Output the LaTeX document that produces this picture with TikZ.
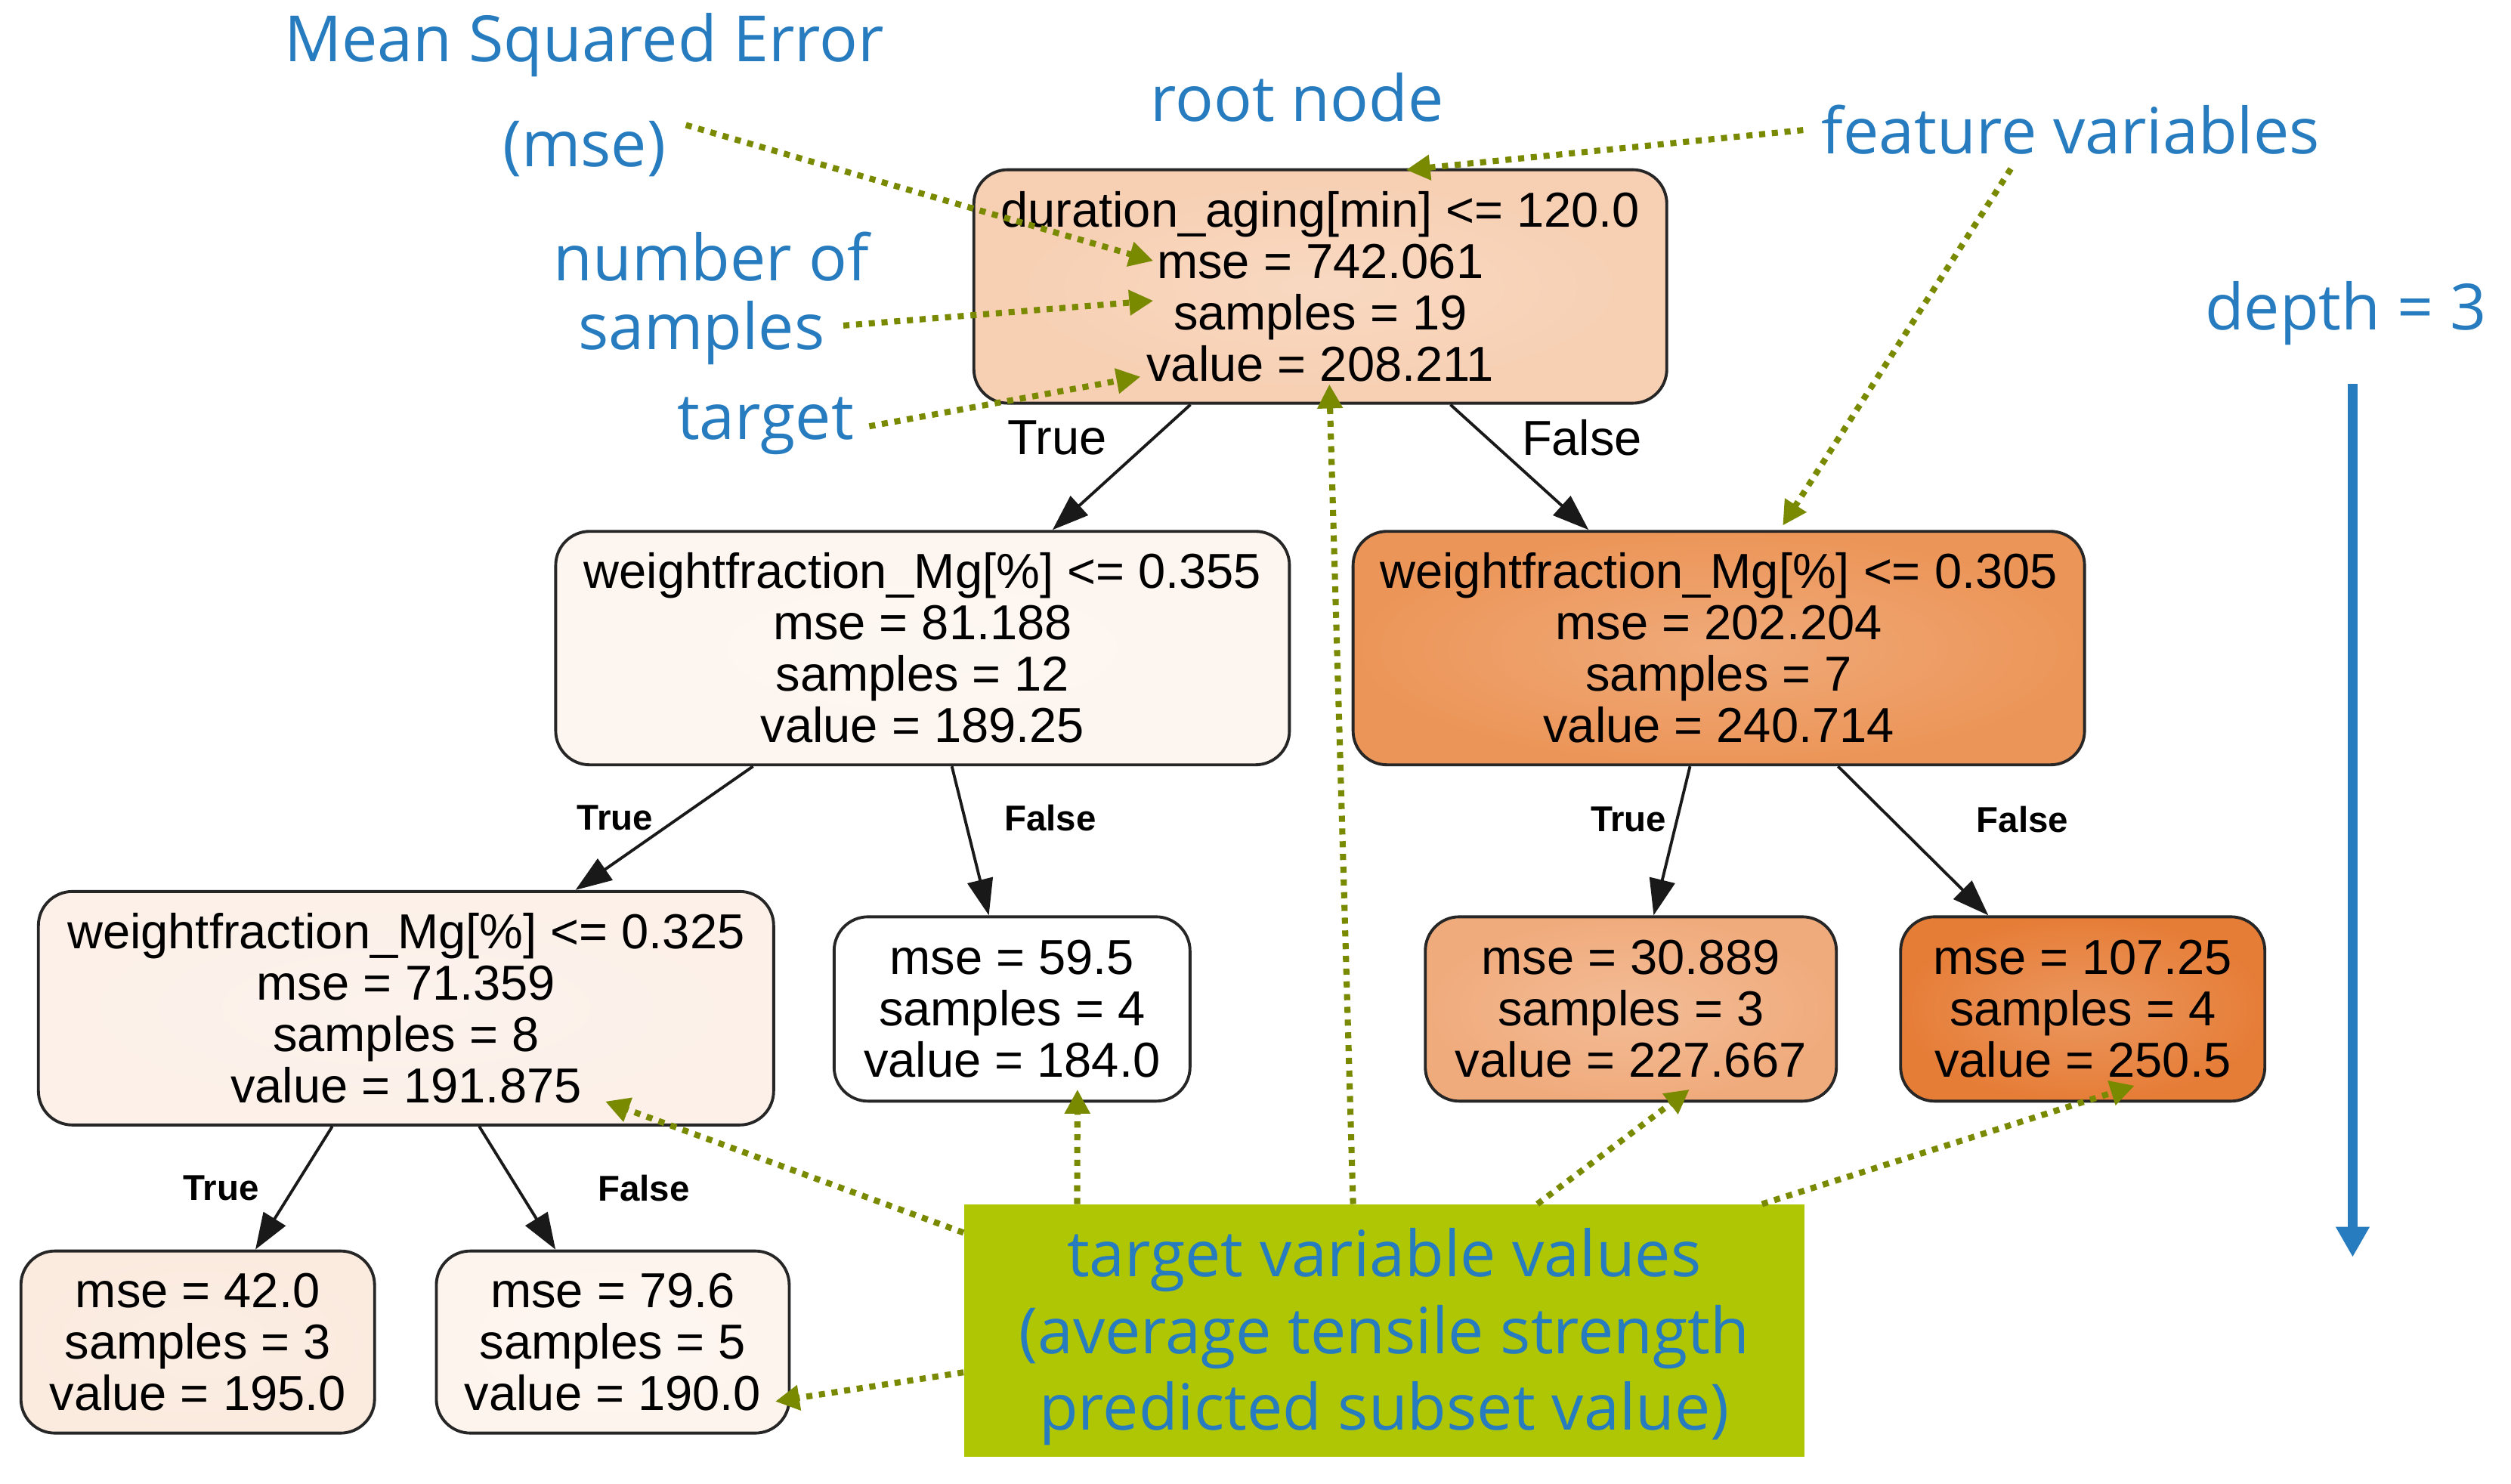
\documentclass[tikz,border=0pt]{standalone}
\usepackage{fontspec}
\setmainfont{Liberation Sans}
\newfontfamily\lblfont{Open Sans}
\usetikzlibrary{arrows.meta,calc}
\definecolor{lblblue}{HTML}{277CBF}
\definecolor{olivearr}{HTML}{7A8A00}
\definecolor{greenbg}{HTML}{AFC605}
\definecolor{cRoot}{HTML}{F7CFB2}
\definecolor{cLone}{HTML}{FDF5EF}
\definecolor{cRone}{HTML}{EC9558}
\definecolor{cLL}{HTML}{FCF0E8}
\definecolor{cRL}{HTML}{F0AB7C}
\definecolor{cRR}{HTML}{E67D37}
\definecolor{cLa}{HTML}{FBEADE}
\definecolor{cLb}{HTML}{FDF4ED}
\begin{document}
\begin{tikzpicture}[x=0.0995mm,y=-0.0995mm,
  tnode/.style={draw=black!85, line width=1.1pt, rounded corners=4.5mm, align=center,
    inner sep=0pt, font=\fontsize{18.5}{19.35}\selectfont},
  fillc/.style={shading=radial, inner color=#1!80!white, outer color=#1},
  edge/.style={draw=black!90, line width=1.1pt, -{Triangle[length=4.8mm,width=3.4mm]}},
  elbl/.style={inner sep=0pt, font=\fontsize{18.5}{20}\selectfont},
  elsm/.style={inner sep=0pt, font=\fontsize{13.5}{14}\selectfont\bfseries},
  lbl/.style={inner sep=0pt, text=lblblue, font=\lblfont\fontsize{24}{28}\selectfont},
  oarr/.style={draw=olivearr, line width=2.3pt, dash pattern=on 2.3pt off 2.5pt,
    -{Triangle[length=3.2mm,width=3.2mm,fill=olivearr]}},
  deptharr/.style={draw=lblblue, line width=3.6pt, -{Triangle[length=4mm,width=4.2mm]}}
]
\useasboundingbox (0mm,0mm) rectangle (332.3mm,-196.3mm);

% tree nodes
\node[tnode, fillc=cRoot, minimum width=91.7mm, minimum height=30.9mm] (root) at (1756,381)
  {duration\_aging[min] <= 120.0\\mse = 742.061\\samples = 19\\value = 208.211};
\node[tnode, fillc=cLone, minimum width=97.1mm, minimum height=30.9mm] (l1) at (1227,862)
  {weightfraction\_Mg[\%] <= 0.355\\mse = 81.188\\samples = 12\\value = 189.25};
\node[tnode, fillc=cRone, minimum width=96.8mm, minimum height=30.9mm] (r1) at (2286,862)
  {weightfraction\_Mg[\%] <= 0.305\\mse = 202.204\\samples = 7\\value = 240.714};
\node[tnode, fillc=cLL, minimum width=97.3mm, minimum height=30.9mm] (ll) at (540,1341)
  {weightfraction\_Mg[\%] <= 0.325\\mse = 71.359\\samples = 8\\value = 191.875};
\node[tnode, fill=white, minimum width=47.1mm, minimum height=24.4mm] (lr) at (1346,1342)
  {mse = 59.5\\samples = 4\\value = 184.0};
\node[tnode, fillc=cRL, minimum width=54.4mm, minimum height=24.4mm] (rl) at (2169,1342)
  {mse = 30.889\\samples = 3\\value = 227.667};
\node[tnode, fillc=cRR, minimum width=48.2mm, minimum height=24.4mm] (rr) at (2770,1342)
  {mse = 107.25\\samples = 4\\value = 250.5};
\node[tnode, fillc=cLa, minimum width=46.8mm, minimum height=24.1mm] (la) at (263,1785)
  {mse = 42.0\\samples = 3\\value = 195.0};
\node[tnode, fillc=cLb, minimum width=46.7mm, minimum height=24.1mm] (lb) at (815,1785)
  {mse = 79.6\\samples = 5\\value = 190.0};

% tree edges
\draw[edge] (root) -- (l1);
\draw[edge] (root) -- (r1);
\draw[edge] (l1) -- (ll);
\draw[edge] (l1) -- (lr);
\draw[edge] (r1) -- (rl);
\draw[edge] (r1) -- (rr);
\draw[edge] (ll) -- (la);
\draw[edge] (ll) -- (lb);

% edge labels
\node[elbl] (e1) at (1406,582) {True};
\node[elbl] (e2) at (2104,582) {False};
\node[elsm] (e3) at (818,1088) {True};
\node[elsm] (e4) at (1397,1088) {False};
\node[elsm] (e5) at (2166,1090) {True};
\node[elsm] (e6) at (2690,1090) {False};
\node[elsm] (e7) at (294,1580) {True};
\node[elsm] (e8) at (856,1580) {False};

% blue labels
\node[lbl] (mseA) at (777,60) {Mean Squared Error};
\node[lbl] (mseB) at (777,198) {(mse)};
\node[lbl] (rootlbl) at (1725,130) {root node};
\node[lbl] (featlbl) at (2754,173) {feature variables};
\node[lbl] (numA) at (946,341) {number of};
\node[lbl] (numB) at (933,443) {samples};
\node[lbl] (tgtlbl) at (1018,567) {target};
\node[lbl] (depthlbl) at (3120,417) {depth = 3};

% green box
\node[fill=greenbg, inner sep=0pt, minimum width=111.2mm, minimum height=33.4mm] (tv) at (1841,1770) {};
\node[inner sep=0pt, align=center, text=lblblue, font=\lblfont\fontsize{24}{28.8}\selectfont]
  (tvtext) at (1841,1778)
  {target variable values\\(average tensile strength\\predicted subset value)};

% arrow endpoints
\coordinate (pMse) at (1534,347);
\coordinate (pSam) at (1534,400);
\coordinate (pVal) at (1517,501);
\coordinate (pFeatA) at (1870,226);
\coordinate (pFeatB) at (2371,699);
\coordinate (pRootV) at (1768,511);
\coordinate (pLR) at (1433,1449);
\coordinate (pLL) at (805,1465);
\coordinate (pLb) at (1031,1864);
\coordinate (pRL) at (2247,1449);
\coordinate (pRR) at (2839,1444);
\coordinate (dTop) at (3129,511);
\coordinate (dBot) at (3129,1672);

% olive annotation arrows
\draw[oarr] ($(mseB.north east)+(26,6)$) -- (pMse);
\draw[oarr] ($(numB.east)+(24,-10)$) -- (pSam);
\draw[oarr] ($(tgtlbl.east)+(20,0)$) -- (pVal);
\draw[oarr] ($(featlbl.west)+(-24,0)$) -- (pFeatA);
\draw[oarr] ($(featlbl.south west)!0.38!(featlbl.south east)+(0,18)$) -- (pFeatB);
\draw[oarr] ($(tv.north west)!0.463!(tv.north east)$) -- (pRootV);
\draw[oarr] ($(tv.north west)!0.135!(tv.north east)$) -- (pLR);
\draw[oarr] ($(tv.north west)!0.113!(tv.south west)$) -- (pLL);
\draw[oarr] ($(tv.north west)!0.664!(tv.south west)$) -- (pLb);
\draw[oarr] ($(tv.north west)!0.682!(tv.north east)$) -- (pRL);
\draw[oarr] ($(tv.north west)!0.949!(tv.north east)$) -- (pRR);

% depth arrow
\draw[deptharr] (dTop) -- (dBot);
\end{tikzpicture}
\end{document}
